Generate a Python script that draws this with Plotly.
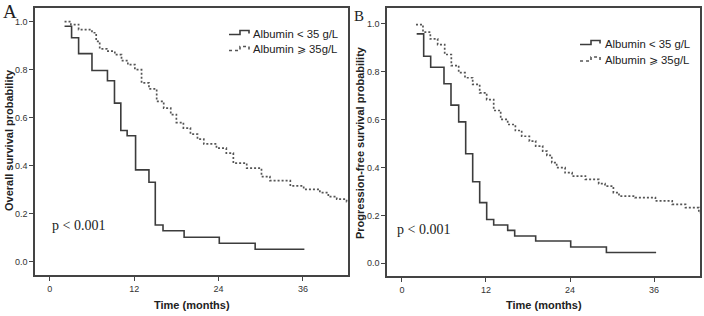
import plotly.graph_objects as go

# ---- data ----
os_low_t = [2.1, 3.1, 4.1, 6.0, 8.2, 9.2, 10.1, 11.0, 12.2, 14.1, 15.0, 16.1, 19.1, 24.1, 29.2, 36.2]
os_low_s = [0.981, 0.933, 0.867, 0.797, 0.754, 0.661, 0.547, 0.525, 0.383, 0.331, 0.153, 0.129, 0.102, 0.077, 0.052, 0.052]

os_high_t = [2.1, 3.0, 4.1, 6.0, 6.6, 7.1, 8.1, 9.25, 10.2, 11.1, 12.1, 13.05, 14.1, 15.2, 16.2, 17.2, 18.0,
             19.0, 20.0, 21.0, 21.9, 23.7, 25.1, 26.1, 28.0, 30.1, 31.3, 34.2, 36.1, 38.4, 39.6, 40.8, 42.2, 42.6]
os_high_s = [1.0, 0.988, 0.967, 0.954, 0.918, 0.887, 0.877, 0.863, 0.838, 0.821, 0.800, 0.745, 0.720, 0.668, 0.640,
             0.613, 0.580, 0.557, 0.532, 0.511, 0.491, 0.473, 0.453, 0.411, 0.390, 0.355, 0.338, 0.316, 0.302,
             0.288, 0.271, 0.261, 0.251, 0.251]

pfs_low_t = [2.1, 3.1, 4.1, 6.0, 7.0, 8.1, 9.1, 10.1, 11.1, 12.1, 13.1, 15.1, 16.1, 19.1, 24.1, 29.2, 36.3]
pfs_low_s = [0.957, 0.864, 0.818, 0.749, 0.660, 0.590, 0.457, 0.340, 0.253, 0.183, 0.160, 0.1375, 0.114, 0.093,
             0.068, 0.045, 0.045]

pfs_high_t = [2.0, 3.0, 4.05, 5.1, 6.1, 7.05, 8.1, 9.0, 10.1, 11.1, 12.1, 13.1, 14.1, 15.1, 16.2, 17.1, 18.2,
              19.1, 20.1, 20.7, 21.4, 22.1, 23.3, 24.3, 26.2, 28.1, 29.0, 30.2, 31.0, 33.3, 36.2, 38.6, 40.5,
              42.4, 42.8]
pfs_high_s = [0.996, 0.964, 0.936, 0.9125, 0.871, 0.825, 0.795, 0.774, 0.746, 0.711, 0.683, 0.6375, 0.600,
              0.579, 0.554, 0.530, 0.51, 0.489, 0.468, 0.45, 0.42, 0.399, 0.378, 0.364, 0.35, 0.332, 0.322,
              0.295, 0.280, 0.274, 0.260, 0.246, 0.232, 0.211, 0.211]

x_ticks = [0, 12, 24, 36]
y_ticks = [0.0, 0.2, 0.4, 0.6, 0.8, 1.0]
name_low = "Albumin < 35 g/L"
name_high_a = "Albumin \u2a7e 35g/L"
name_high_b = "Albumin \u2a7e 35g/L"

SOLID = "#3c3c3c"
DASH = "#555555"
SANS = "Liberation Sans, Arial, sans-serif"
SERIF = "Liberation Serif, Times New Roman, serif"
W, H = 704, 316


def px(x, y):
    return x / W, 1 - y / H


fig = go.Figure()
fig.add_trace(go.Scatter(x=os_low_t, y=os_low_s, mode="lines", line=dict(shape="hv", color=SOLID, width=1.6),
                         name=name_low, xaxis="x", yaxis="y"))
fig.add_trace(go.Scatter(x=os_high_t, y=os_high_s, mode="lines",
                         line=dict(shape="hv", color=DASH, width=1.7, dash="2px,2px"),
                         name=name_high_a, xaxis="x", yaxis="y"))
fig.add_trace(go.Scatter(x=pfs_low_t, y=pfs_low_s, mode="lines", line=dict(shape="hv", color=SOLID, width=1.6),
                         name=name_low, xaxis="x2", yaxis="y2"))
fig.add_trace(go.Scatter(x=pfs_high_t, y=pfs_high_s, mode="lines",
                         line=dict(shape="hv", color=DASH, width=1.7, dash="2px,2px"),
                         name=name_high_b, xaxis="x2", yaxis="y2"))

axis_common = dict(showgrid=False, zeroline=False, showline=True, linecolor="#444", linewidth=1.5,
                   mirror=True, ticks="outside", ticklen=4, tickwidth=1, tickcolor="#444",
                   tickfont=dict(family=SANS, size=9, color="#333"))

fig.update_layout(
    width=W, height=H,
    margin=dict(l=0, r=0, t=0, b=0),
    paper_bgcolor="white", plot_bgcolor="white",
    xaxis=dict(domain=[35/W, 348/W], range=[-2.1, 42.4], tickvals=x_ticks, anchor="y", **axis_common),
    yaxis=dict(domain=[1-275/H, 1-8/H], range=[-0.055, 1.057], tickvals=y_ticks, tickformat=".1f",
               anchor="x", **axis_common),
    xaxis2=dict(domain=[387/W, 700/W], range=[-2.14, 42.57], tickvals=x_ticks, anchor="y2", **axis_common),
    yaxis2=dict(domain=[1-276/H, 1-8/H], range=[-0.053, 1.065], tickvals=y_ticks, tickformat=".1f",
                anchor="x2", **axis_common),
    showlegend=False,
)

ann = [
    dict(text="A", x=10/W, y=1-12/H, font=dict(family=SERIF, size=19, color="#222")),
    dict(text="B", x=359/W, y=1-16/H, font=dict(family=SERIF, size=15, color="#222")),
    dict(text="<b>Overall survival probability</b>", x=9/W, y=1-140/H, textangle=-90,
         font=dict(family=SANS, size=11, color="#222")),
    dict(text="<b>Progression-free survival probability</b>", x=360/W, y=1-143/H, textangle=-90,
         font=dict(family=SANS, size=11, color="#222")),
    dict(text="<b>Time (months)</b>", x=192/W, y=1-305/H, font=dict(family=SANS, size=11, color="#222")),
    dict(text="<b>Time (months)</b>", x=544/W, y=1-305/H, font=dict(family=SANS, size=11, color="#222")),
    dict(text="p < 0.001", x=78/W, y=1-225/H, font=dict(family=SERIF, size=14, color="#222")),
    dict(text="p < 0.001", x=423/W, y=1-229/H, font=dict(family=SERIF, size=14, color="#222")),
]
for a in ann:
    a.update(xref="paper", yref="paper", showarrow=False, xanchor="center", yanchor="middle")

# ---- custom legends (step-shaped keys like the reference) ----
legend_specs = [
    # (glyph x start, text x, row1 y, row2 y, names)
    (229, 251, 33.5, 49.5, (name_low, name_high_a)),
    (580, 603, 43.5, 60.0, (name_low, name_high_b)),
]
shapes = []
for gx, tx, r1, r2, names in legend_specs:
    for (ry, nm, col, dash) in ((r1, names[0], SOLID, "solid"), (r2, names[1], DASH, "dot")):
        pts = [(gx, ry + 1), (gx + 11, ry + 1), (gx + 11, ry - 3), (gx + 20, ry - 3), (gx + 20, ry)]
        path = "M " + " L ".join("%.4f,%.4f" % px(x, y) for x, y in pts)
        shapes.append(dict(type="path", path=path, xref="paper", yref="paper",
                           line=dict(color=col, width=1.6, dash=dash)))
        ann.append(dict(text=nm, x=tx / W, y=1 - ry / H, xref="paper", yref="paper", showarrow=False,
                        xanchor="left", yanchor="middle", font=dict(family=SANS, size=11.3, color="#222")))

fig.update_layout(annotations=ann, shapes=shapes)

fig.write_html("out.html", config={"displayModeBar": False},
               post_script="document.body.style.margin='0';document.body.style.overflow='hidden';")
